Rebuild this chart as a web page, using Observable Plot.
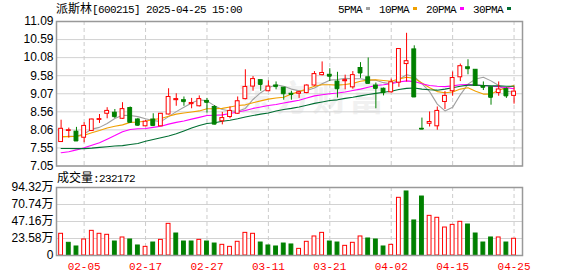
<!DOCTYPE html>
<html><head><meta charset="utf-8">
<script src="https://cdn.jsdelivr.net/npm/d3@7"></script>
<script src="https://cdn.jsdelivr.net/npm/@observablehq/plot@0.6"></script>
<style>
html,body{margin:0;padding:0;background:#fff;}
#wrap{position:relative;width:578px;height:276px;overflow:hidden;font-family:"Liberation Sans","Noto Sans CJK SC",sans-serif;color:#000;}
.abs{position:absolute;white-space:nowrap;line-height:14px;}
.mono{font-family:"Liberation Mono",monospace;font-size:11px;letter-spacing:-0.6px;}
.cjk{font-family:"Noto Sans CJK SC";font-size:12px;}
.sq{display:inline-block;width:4px;height:3px;margin:0 9px 1px 4px;vertical-align:middle;}
#wm{position:absolute;left:238px;top:70px;font-family:"Noto Sans CJK SC";font-weight:700;font-size:35px;color:#f1f1f1;letter-spacing:2px;}
#price,#vol{position:absolute;left:0;}
#price{top:0;} #vol{top:168px;}
</style></head>
<body><div id="wrap">
<div id="wm">东方财富</div>
<div id="price"></div>
<div id="vol"></div>
<div class="abs" id="title" style="left:56px;top:1px;"></div>
<div class="abs" id="legend" style="left:338px;top:1px;"></div>
<div class="abs" id="vlabel" style="left:57px;top:170px;"></div>
</div>
<script>
const stockName = "派斯林";
const stockCode = "[600215] 2025-04-25 15:00";
const volName = "成交量";
const volLast = ":232172";
const dates = ["01-23","01-24","01-27","02-05","02-06","02-07","02-10","02-11","02-12","02-13","02-14","02-17","02-18","02-19","02-20","02-21","02-24","02-25","02-26","02-27","02-28","03-03","03-04","03-05","03-06","03-07","03-10","03-11","03-12","03-13","03-14","03-17","03-18","03-19","03-20","03-21","03-24","03-25","03-26","03-27","03-28","03-31","04-01","04-02","04-03","04-07","04-08","04-09","04-10","04-11","04-14","04-15","04-16","04-17","04-18","04-21","04-22","04-23","04-24","04-25"];
const tickDates = ["02-05","02-17","02-27","03-11","03-21","04-02","04-15","04-25"];
const open = [7.72,8.03,8.01,7.84,8.03,8.34,8.51,8.54,8.37,8.67, 8.35,8.16,8.35,8.16,8.49,8.89,8.89,8.78,8.72,8.87, 8.70,8.30,8.42,8.51,8.92,9.27,9.45,9.14,9.30,9.24, 9.07,9.07,9.09,9.30,9.59,9.60,9.41,9.42,9.25,9.79, 9.53,9.30,9.21,9.11,9.38,9.90,10.31,8.09,8.23,8.16, 8.84,9.14,9.53,9.81,9.74,9.28,9.25,9.09,9.20,9.01];
const high = [8.33,8.11,8.13,8.26,8.36,8.49,8.68,8.63,8.82,8.70, 8.38,8.32,8.51,8.52,9.21,9.07,8.98,8.94,9.01,8.94, 8.74,8.55,8.70,8.98,9.74,9.55,9.45,9.43,9.40,9.24, 9.14,9.14,9.32,9.69,9.96,9.77,9.67,9.59,9.69,9.94, 10.07,9.37,9.23,9.48,10.32,10.76,10.41,8.39,8.56,8.70, 9.13,9.68,9.90,10.02,9.74,9.40,9.25,9.40,9.23,9.25];
const low = [7.71,7.83,7.74,7.70,8.02,8.24,8.37,8.38,8.35,8.26, 8.16,8.15,8.16,8.15,8.48,8.72,8.72,8.65,8.70,8.53, 8.20,8.20,8.37,8.49,8.90,9.14,9.14,9.13,9.18,8.89, 8.89,8.94,9.07,9.28,9.57,9.41,8.95,9.18,9.20,9.50, 9.35,8.65,9.01,9.09,9.25,9.40,8.98,8.08,8.14,8.05, 8.63,9.00,9.41,9.60,9.29,9.16,8.75,9.00,8.94,8.78];
const close = [8.09,8.05,7.75,8.17,8.35,8.36,8.59,8.43,8.64,8.27, 8.19,8.29,8.18,8.51,8.98,8.92,8.85,8.81,8.92,8.83, 8.22,8.39,8.59,8.86,9.26,9.48,9.33,9.27,9.27,9.07, 9.05,9.11,9.30,9.62,9.65,9.56,9.21,9.45,9.59,9.65, 9.36,9.22,9.10,9.39,10.32,9.98,8.98,8.08,8.28,8.59, 9.01,9.51,9.84,9.77,9.30,9.25,8.97,9.19,9.01,9.13];
const ma5 = [7.86,7.88,7.88,7.95,8.08,8.13,8.24,8.38,8.47,8.46, 8.43,8.37,8.32,8.29,8.43,8.57,8.69,8.81,8.90,8.87, 8.73,8.63,8.59,8.58,8.66,8.91,9.10,9.24,9.32,9.28, 9.20,9.15,9.16,9.23,9.35,9.45,9.47,9.50,9.49,9.49, 9.45,9.45,9.38,9.34,9.47,9.60,9.55,9.35,9.13,8.78, 8.59,8.69,9.04,9.34,9.48,9.53,9.43,9.30,9.14,9.11];
const ma10 = [7.87,7.87,7.88,7.91,7.98,8.04,8.11,8.16,8.20,8.27, 8.28,8.30,8.35,8.38,8.44,8.50,8.53,8.56,8.59,8.65, 8.65,8.66,8.70,8.74,8.76,8.82,8.87,8.92,8.95,8.97, 9.06,9.13,9.20,9.28,9.32,9.32,9.31,9.33,9.36,9.42, 9.45,9.46,9.44,9.42,9.48,9.53,9.50,9.37,9.24,9.13, 9.10,9.12,9.20,9.24,9.14,9.06,9.06,9.17,9.24,9.30];
const ma20 = [7.42,7.45,7.50,7.56,7.63,7.70,7.80,7.90,8.01,8.07, 8.09,8.10,8.13,8.16,8.22,8.27,8.31,8.36,8.41,8.46, 8.47,8.48,8.52,8.56,8.60,8.66,8.70,8.74,8.77,8.81, 8.85,8.89,8.95,9.01,9.04,9.07,9.09,9.12,9.16,9.20, 9.25,9.30,9.32,9.35,9.40,9.43,9.41,9.35,9.30,9.28, 9.27,9.29,9.32,9.33,9.31,9.30,9.28,9.27,9.24,9.21];
const ma30 = [7.54,7.54,7.535,7.535,7.55,7.57,7.59,7.61,7.62,7.65, 7.68,7.74,7.79,7.84,7.89,7.95,8.03,8.11,8.18,8.24, 8.26,8.30,8.33,8.37,8.42,8.46,8.50,8.53,8.59,8.63, 8.66,8.70,8.75,8.80,8.84,8.88,8.90,8.94,8.97,9.01, 9.05,9.08,9.11,9.14,9.19,9.22,9.23,9.20,9.18,9.17, 9.20,9.24,9.28,9.31,9.31,9.30,9.29,9.29,9.28,9.28];
// volume in 万 (10k lots)
const volume = [30.1,17.6,12.5,22.2,34.2,30.1,28.7,19.4,25.0,22.2, 13.9,12.0,18.0,21.7,43.9,30.5,19.4,19.4,21.7,19.4, 16.6,14.8,12.0,19.0,31.4,30.1,18.0,13.9,12.5,16.6, 15.3,9.2,19.0,26.4,31.4,19.4,18.0,13.4,17.6,26.4, 23.6,22.2,12.5,14.8,80.0,88.8,48.6,81.8,55.0,52.3, 38.8,42.5,46.7,43.0,30.5,18.0,25.0,25.0,18.0,23.2172];
const volUp = [1,0,0,1,1,1,1,0,1,0, 0,1,0,1,1,0,0,0,1,0, 0,1,1,1,1,1,0,0,0,0, 0,1,1,1,1,0,0,1,1,1, 0,0,0,1,1,0,0,0,1,1, 1,1,1,0,0,0,0,1,0,1];
const priceTicks = [7.05,7.555,8.06,8.565,9.07,9.575,10.08,10.585,11.09];
const priceTickLabels = ["7.05","7.55","8.06","8.56","9.07","9.58","10.08","10.59","11.09"];
const volTicks = [0,23.58,47.16,70.74,94.32];
const volTickLabels = ["0","23.58万","47.16万","70.74万","94.32万"];
const maNames = ["5PMA","10PMA","20PMA","30PMA"];
const maColors = ["#a0a0a0","#f0a000","#ff00ff","#006e32"];

const RED = "#ff0000", GREEN = "#008000";
const tickIdx = tickDates.map(d => dates.indexOf(d));
const candles = dates.map((d, i) => ({i, o: open[i], h: high[i], l: low[i], c: close[i]}));
const cUp = d => d.c >= d.o;
const maSeries = [ma5, ma10, ma20, ma30];
const maData = maSeries.flatMap((arr, k) => arr.map((v, i) => ({i, v, k})));
const volData = volume.map((v, i) => ({i, v, up: volUp[i] === 1}));
const HW = 0.25;
const xDomain = [-0.6, 60.1];
const axisFont = "Liberation Sans, Noto Sans CJK SC, sans-serif";

const pricePlot = Plot.plot({
  width: 578, height: 168,
  marginLeft: 56, marginRight: 56, marginTop: 21, marginBottom: 2.5,
  style: {background: "transparent", overflow: "visible"},
  x: {type: "linear", domain: xDomain, axis: null},
  y: {type: "linear", domain: [7.05, 11.09]},
  marks: [
    Plot.ruleY(priceTicks, {stroke: "#d2d2d2"}),
    Plot.ruleX(tickIdx, {stroke: "#cccccc", strokeDasharray: "4,3"}),
    Plot.axisY(priceTicks, {tickSize: 0, tickPadding: 3, tickFormat: d => priceTickLabels[priceTicks.indexOf(d)], fontSize: 12, fontFamily: axisFont, fill: "#000", label: null}),
    ...maSeries.map((arr, k) => Plot.line(maData.filter(d => d.k === k), {x: "i", y: "v", stroke: maColors[k], strokeWidth: 1.1})),
    Plot.ruleX(candles, {x: "i", y1: "l", y2: "h", stroke: d => cUp(d) ? RED : GREEN}),
    Plot.ruleY(candles, {y: "c", x1: d => d.i - HW, x2: d => d.i + HW, stroke: d => cUp(d) ? RED : GREEN}),
    Plot.rect(candles, {x1: d => d.i - HW, x2: d => d.i + HW, y1: "o", y2: "c", fill: d => cUp(d) ? "#fff" : GREEN, stroke: d => cUp(d) ? RED : GREEN}),
    Plot.frame({stroke: "#999", strokeWidth: 1.5})
  ]
});
document.getElementById("price").appendChild(pricePlot);

const volPlot = Plot.plot({
  width: 578, height: 108,
  marginLeft: 56, marginRight: 56, marginTop: 19, marginBottom: 21,
  style: {background: "transparent", overflow: "visible"},
  x: {type: "linear", domain: xDomain},
  y: {type: "linear", domain: [0, 94.32]},
  marks: [
    Plot.ruleY(volTicks, {stroke: "#d2d2d2"}),
    Plot.ruleX(tickIdx, {stroke: "#cccccc", strokeDasharray: "4,3"}),
    Plot.axisY(volTicks, {tickSize: 0, tickPadding: 3, tickFormat: d => volTickLabels[volTicks.indexOf(d)], fontSize: 12, fontFamily: axisFont, fill: "#000", label: null}),
    Plot.axisX(tickIdx, {tickSize: 0, tickPadding: 7, tickFormat: i => dates[i], fontSize: 11, fontFamily: "Liberation Mono, monospace", fill: RED, label: null}),
    Plot.rect(volData, {x1: d => d.i - HW, x2: d => d.i + HW, y1: 0, y2: "v", fill: d => d.up ? "#fff" : GREEN, stroke: d => d.up ? RED : GREEN}),
    Plot.frame({stroke: "#999", strokeWidth: 1.5})
  ]
});
document.getElementById("vol").appendChild(volPlot);

document.getElementById("title").innerHTML = `<span class="cjk">${stockName}</span><span class="mono">${stockCode}</span>`;
document.getElementById("vlabel").innerHTML = `<span class="cjk">${volName}</span><span class="mono">${volLast}</span>`;
document.getElementById("legend").innerHTML = maNames.map((n, k) => `<span class="mono">${n}</span><span class="sq" style="background:${maColors[k]}"></span>`).join("");
</script>
</body></html>
